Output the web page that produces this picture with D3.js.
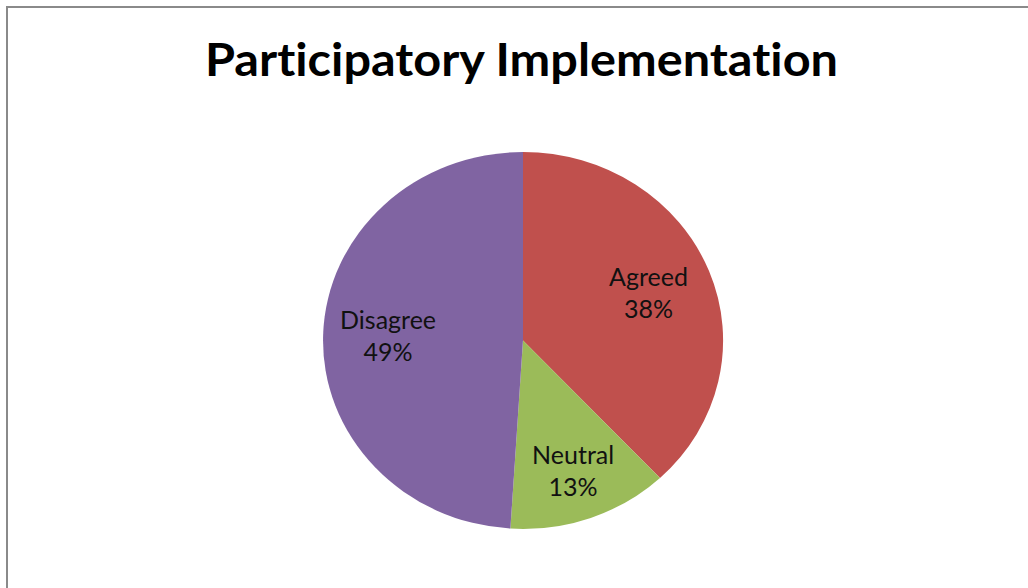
<!DOCTYPE html>
<html>
<head>
<meta charset="utf-8">
<script src="https://cdn.jsdelivr.net/npm/d3@7"></script>
<style>
  body { margin: 0; background: #fff; }
  svg { display: block; }
  text { font-variant-ligatures: none; font-feature-settings: "liga" 0; }
</style>
</head>
<body>
<div id="chart"></div>
<script>
// chart data
var categories = ["Agreed", "Neutral", "Disagree"];
var values = [38, 13, 49];
var colors = ["#C0504D", "#9BBB59", "#8064A2"];
var title = "Participatory Implementation";

var width = 1028, height = 588;
var cx = 523, cy = 340.5,
    rx = 200, ry = 188.5;

var svg = d3.select("#chart")
  .append("svg")
    .attr("width", width)
    .attr("height", height);

// outer chart frame (runs off the right and bottom edges)
svg.append("rect")
  .attr("x", 7).attr("y", 7)
  .attr("width", 1100).attr("height", 700)
  .attr("fill", "none")
  .attr("stroke", "#8a8a8a")
  .attr("stroke-width", 2);

svg.append("text")
  .attr("x", 521.5)
  .attr("y", 76)
  .attr("text-anchor", "middle")
  .attr("font-family", "Lato, 'Open Sans', sans-serif")
  .attr("font-weight", "bold")
  .attr("font-size", 46)
  .attr("textLength", 633)
  .attr("lengthAdjust", "spacingAndGlyphs")
  .attr("fill", "#000")
  .text(title);

var pie = d3.pie().sort(null).value(function(d) { return d; });
var arcs = pie(values);

// pie is a bit wider than tall in the picture, so draw on a unit circle and stretch
var arc = d3.arc().innerRadius(0).outerRadius(1);

g = svg.append("g")
  .attr("transform", "translate(" + cx + "," + cy + ") scale(" + rx + "," + ry + ")");

g.selectAll("path")
  .data(arcs)
  .enter().append("path")
    .attr("d", arc)
    .attr("fill", function(d, i) { return colors[i]; });

// small slice gets its label pushed out a little, like Excel does
function labelPos(d) {
  var r = (d.endAngle - d.startAngle) < 1 ? 0.74 : 0.675;
  var c = d3.arc().innerRadius(r).outerRadius(r).centroid(d);
  return [cx + c[0] * rx, cy + c[1] * ry];
}

var labels = svg.append("g")
  .selectAll("text")
  .data(arcs)
  .enter().append("text")
    .attr("text-anchor", "middle")
    .attr("font-family", "Lato, 'Open Sans', sans-serif")
    .attr("font-size", 25)
    .attr("fill", "#111")
    .attr("transform", function(d) {
      var p = labelPos(d);
      return "translate(" + p[0] + "," + p[1] + ")";
    });

labels.append("tspan")
  .attr("x", 0).attr("y", -8)
  .text(function(d, i) { return categories[i]; });
labels.append("tspan")
  .attr("x", 0).attr("y", 24)
  .text(function(d) { return d.data + "%"; });
</script>
</body>
</html>
